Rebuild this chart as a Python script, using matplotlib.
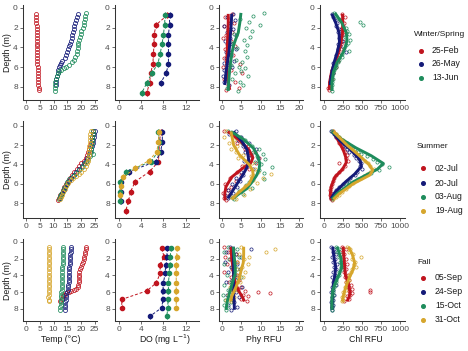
import matplotlib
matplotlib.use('Agg')
import matplotlib.pyplot as plt
from matplotlib.lines import Line2D

# ---------------- colours / labels ----------------
RED, NAVY, GREEN, GOLD = '#C0141E', '#141A78', '#1E8C5C', '#D6A62C'
ROW_TITLES = ['Winter/Spring', 'Summer', 'Fall']
ROW_DATES = [['25-Feb', '26-May', '13-Jun'],
             ['02-Jul', '20-Jul', '03-Aug', '19-Aug'],
             ['05-Sep', '24-Sep', '15-Oct', '31-Oct']]
ROW_COLORS = [[RED, NAVY, GREEN], [RED, NAVY, GREEN, GOLD], [RED, NAVY, GREEN, GOLD]]
XLABELS = ['Temp (°C)', 'DO (mg L$^{-1}$)', 'Phy RFU', 'Chl RFU']
XTICKS = [[0, 5, 10, 15, 20, 25], [0, 4, 8, 12], [0, 5, 10, 15, 20], [0, 250, 500, 750, 1000]]
YTICKS = [0, 2, 4, 6, 8]

# ---------------- profile data (depth, temp, phy, chl) ----------------
# Winter/Spring
D_FEB = [0.6,0.9,1.2,1.5,1.8,2.1,2.4,2.7,3.0,3.3,3.6,3.9,4.2,4.5,4.8,5.1,5.4,5.7,6.0,6.3,6.6,6.9,7.2,7.5,7.8,8.1,8.3]
T_FEB = [3.5,3.6,3.7,3.7,3.8,3.8,3.9,3.9,3.9,4.0,4.0,4.0,4.0,4.0,4.1,4.1,4.1,4.1,4.2,4.2,4.2,4.3,4.3,4.3,4.4,4.5,4.5]
P_FEB = [2.6,0.8,1.9,3.1,0.4,1.5,2.7,1.0,0.2,2.2,1.4,3.3,0.7,1.8,2.9,0.5,1.2,4.6,0.3,2.4,5.2,1.1,0.6,3.4,1.6,4.3,0.9]
C_FEB = [230,275,210,260,250,225,270,235,205,250,215,190,225,175,200,160,185,130,150,105,120,85,95,70,80,55,65]

D_MAY = [0.6,0.9,1.2,1.5,1.8,2.1,2.4,2.7,3.0,3.3,3.6,3.9,4.2,4.5,4.8,5.1,5.4,5.6,5.8,6.0,6.3,6.6,6.9,7.2,7.5,7.8]
T_MAY = [18.9,18.6,18.2,17.9,17.6,17.3,17.0,16.8,16.6,16.3,16.0,15.7,15.3,15.0,14.6,14.0,13.2,12.8,12.3,12.1,11.8,11.5,11.2,11.0,10.9,10.8]
P_MAY = [2.8,1.2,3.4,2.0,0.5,2.9,1.4,3.6,2.1,0.7,2.6,1.6,3.5,0.9,2.3,1.1,3.0,0.4,1.7,2.5,0.6,1.5,0.3,1.2,0.5,1.9]
C_MAY = [95,120,140,165,150,190,175,215,195,230,185,210,175,290,160,150,140,120,135,110,100,115,90,85,80,75]

D_JUN = [0.5,0.8,1.1,1.4,1.7,2.0,2.3,2.6,2.9,3.2,3.5,3.8,4.1,4.4,4.7,5.0,5.25,5.5,5.75,5.95,6.1,6.25,6.4,6.6,6.9,7.2,7.5,7.8,8.1,8.4]
T_JUN = [21.7,21.6,21.4,21.2,21.0,20.6,20.2,19.9,19.6,19.3,19.0,18.9,18.8,18.7,18.5,18.0,17.4,16.6,15.6,14.6,13.7,12.8,12.0,11.5,11.1,10.9,10.7,10.6,10.5,10.4]
P_JUN = [10.9,8.1,4.6,7.0,9.8,6.2,7.8,3.0,7.2,5.6,2.4,6.5,4.0,5.9,1.8,6.4,3.5,5.1,2.2,4.3,6.0,1.5,4.8,3.3,6.8,2.6,4.7,5.5,1.2,4.2]
C_JUN = [130,160,200,470,510,280,300,330,270,340,310,290,260,320,240,230,200,180,160,150,140,130,120,115,105,110,95,100,90,105]

# Summer
D_JUL02 = [0.6,0.9,1.2,1.5,1.8,2.1,2.4,2.7,3.0,3.3,3.6,3.9,4.2,4.5,4.8,5.1,5.4,5.7,6.0,6.3,6.6,6.9,7.2,7.5,7.7]
T_JUL02 = [24.5,24.3,24.1,23.9,23.6,23.4,23.1,22.7,22.3,21.7,21.0,20.2,19.4,18.5,17.6,16.8,15.9,15.1,14.5,13.9,13.4,12.9,12.4,12.0,11.6]
P_JUL02 = [0.5,2.5,3.8,5.5,4.0,6.8,5.9,8.5,7.2,9.6,6.5,8.8,5.2,7.0,3.8,4.9,2.0,3.5,0.8,2.2,1.5,0.3,1.8,0.6,1.1]
C_JUL02 = [110,140,160,190,200,230,250,270,300,280,310,200,270,230,190,150,130,110,95,85,80,90,75,85,95]

D_JUL20 = [0.6,0.9,1.2,1.5,1.8,2.1,2.4,2.7,3.0,3.3,3.6,3.9,4.2,4.5,4.8,5.1,5.4,5.7,6.0,6.3,6.6,6.9,7.2,7.5]
T_JUL20 = [25.0,24.9,24.7,24.5,24.3,24.1,23.8,23.4,23.0,22.4,21.7,21.0,20.3,19.4,18.3,17.3,16.3,15.5,14.9,14.3,13.7,13.2,12.7,12.3]
P_JUL20 = [3.5,1.8,5.0,4.2,7.0,5.5,8.8,6.0,7.5,9.2,5.8,7.0,6.2,8.0,4.8,5.5,3.5,4.6,2.5,3.8,1.5,2.9,0.8,1.6]
C_JUL20 = [90,130,160,190,240,270,300,330,390,420,460,490,470,500,430,400,340,300,250,200,160,130,110,90]

D_AUG03 = [0.6,0.9,1.2,1.5,1.8,2.1,2.4,2.7,2.9,3.1,3.4,3.7,4.0,4.3,4.6,4.9,5.2,5.5,5.8,6.1,6.4,6.7,7.0,7.3,7.6]
T_AUG03 = [24.4,24.3,24.2,24.0,23.9,23.8,23.7,23.6,24.6,23.5,22.6,21.9,21.2,20.3,19.3,18.2,17.0,15.8,15.0,14.4,13.8,13.3,12.8,12.4,12.0]
P_AUG03 = [1.5,3.0,4.6,6.0,5.2,7.8,9.5,8.0,10.5,9.0,11.2,8.5,10.2,13.0,9.5,10.8,8.2,11.0,7.0,6.2,7.8,4.5,5.5,2.0,3.2]
C_AUG03 = [100,150,200,240,300,350,400,450,480,560,640,700,760,850,720,620,520,450,330,280,220,170,150,120,100]

D_AUG19 = [0.6,0.9,1.2,1.5,1.8,2.1,2.4,2.7,3.0,3.3,3.6,3.9,4.2,4.5,4.8,5.0,5.2,5.4,5.6,5.9,6.2,6.5,6.8,7.1,7.4,7.6]
T_AUG19 = [23.6,23.5,23.4,23.3,23.2,23.1,23.0,22.9,22.8,22.7,22.5,22.2,21.7,21.0,20.2,19.3,18.2,17.0,16.2,15.4,14.7,14.0,13.5,13.0,12.6,12.3]
P_AUG19 = [1.0,2.5,0.5,3.2,1.8,4.0,2.2,3.5,5.5,4.2,6.5,7.8,5.8,8.6,9.2,12.8,7.5,10.5,8.0,9.0,6.0,7.2,4.5,5.8,2.2,3.5]
C_AUG19 = [110,150,190,250,280,320,360,400,440,490,540,580,610,650,600,560,520,480,430,380,330,280,230,190,150,120]

# Fall
D_SEP05 = [0.6,0.9,1.2,1.5,1.8,2.1,2.4,2.7,3.0,3.3,3.6,3.9,4.2,4.5,4.8,5.1,5.4,5.6,5.75,5.85,5.95,6.1,6.3,6.5,6.8,7.1]
T_SEP05 = [22.0,21.8,21.6,21.4,21.2,21.0,20.7,20.3,19.9,19.6,19.4,19.3,19.3,19.2,19.2,19.1,19.0,18.3,17.5,16.5,15.5,14.6,13.9,13.4,12.9,12.4]
P_SEP05 = [0.5,2.8,1.5,3.5,0.8,2.0,4.0,1.2,3.2,2.5,0.6,3.8,2.2,4.5,1.8,3.0,5.0,4.2,2.8,6.0,9.2,12.4,5.5,6.8,4.9,6.5]
C_SEP05 = [230,280,210,260,240,290,250,300,230,280,260,310,270,330,290,350,310,360,600,330,610,370,340,300,320,260]

D_SEP24 = [0.6,0.9,1.2,1.5,1.8,2.1,2.4,2.7,3.0,3.3,3.6,3.9,4.2,4.5,4.8,5.1,5.4,5.7,6.0,6.3,6.6,6.9,7.2,7.5,7.8,8.1]
T_SEP24 = [16.4,16.3,16.2,16.1,16.0,16.0,15.9,15.9,15.8,15.8,15.7,15.7,15.6,15.6,15.5,15.4,15.3,15.1,14.9,14.7,14.6,14.4,14.3,14.2,14.1,14.0]
P_SEP24 = [2.0,7.4,1.0,3.5,5.0,2.5,0.8,3.8,2.2,4.6,1.5,3.0,4.0,2.6,0.9,3.4,5.2,2.0,3.7,1.2,4.4,2.8,3.2,1.6,4.0,2.4]
C_SEP24 = [90,130,110,150,100,140,120,170,130,160,110,140,95,130,110,150,100,120,90,130,105,115,85,110,95,100]

D_OCT15 = [0.6,0.9,1.2,1.5,1.8,2.1,2.4,2.7,3.0,3.3,3.6,3.9,4.2,4.5,4.8,5.1,5.4,5.7,6.0,6.3,6.6,6.9,7.2,7.5,7.8,8.1]
T_OCT15 = [13.5,13.5,13.4,13.4,13.4,13.3,13.3,13.3,13.2,13.2,13.2,13.1,13.1,13.1,13.0,13.0,12.9,12.9,12.8,12.8,12.7,12.7,12.6,12.6,12.5,12.5]
P_OCT15 = [1.5,3.8,0.5,2.8,4.5,1.8,3.2,0.4,2.5,4.0,3.0,1.2,5.0,3.6,2.2,0.6,3.0,1.5,2.6,0.3,1.8,0.8,2.2,0.4,1.5,0.9]
C_OCT15 = [150,190,170,220,200,240,210,250,220,230,200,190,170,160,150,140,130,120,115,110,105,100,95,100,105,95]

D_OCT31 = [0.6,0.9,1.2,1.5,1.8,2.1,2.4,2.7,3.0,3.3,3.6,3.9,4.2,4.5,4.8,5.1,5.4,5.7,6.0,6.3,6.6,6.9,7.1]
T_OCT31 = [8.4,8.4,8.3,8.3,8.3,8.3,8.3,8.3,8.2,8.3,8.3,8.2,8.2,8.3,8.2,8.2,8.3,8.2,8.2,8.2,8.1,8.2,8.2]
P_OCT31 = [5.0,13.7,11.5,4.5,7.0,5.8,3.8,6.8,5.2,4.0,6.0,3.5,5.4,2.8,4.6,3.2,2.0,3.8,2.5,1.5,3.0,1.0,2.2]
C_OCT31 = [300,340,330,380,490,360,410,390,420,370,350,330,310,320,290,300,270,280,250,260,240,250,230]

# ---------------- smoothed (loess) curves ----------------
S_FEB_D = [0.6,1.5,2.5,3.5,4.5,5.5,6.5,7.5,8.3]
S_FEB_P = [1.6,1.6,1.5,1.4,1.3,1.2,1.3,1.6,2.0]
S_FEB_C = [240,245,240,220,185,140,95,70,65]
S_MAY_D = [0.6,1.5,2.5,3.5,4.5,5.5,6.5,7.5,7.8]
S_MAY_P = [2.5,2.4,2.2,2.0,1.8,1.4,1.0,0.8,0.7]
S_MAY_C = [100,150,195,200,170,130,100,80,78]
S_JUN_D = [0.5,1.5,2.5,3.2,3.9,4.5,5.5,6.5,7.5,8.4]
S_JUN_P = [4.9,4.6,4.2,3.5,2.9,2.6,2.2,1.9,1.7,1.6]
S_JUN_C = [140,230,290,300,280,250,170,120,100,100]

S_JUL02_D = [0.6,1.5,2.5,3.3,3.8,4.5,5.3,6.3,7.0,7.7]
S_JUL02_P = [1.5,4.5,7.0,8.0,7.5,5.0,2.5,1.0,0.7,0.8]
S_JUL02_C = [120,180,250,285,290,240,140,90,80,90]
S_JUL20_D = [0.6,1.5,2.5,3.5,4.2,5.0,5.8,6.8,7.5]
S_JUL20_P = [2.9,5.0,6.5,6.9,6.6,5.5,4.2,2.6,1.5]
S_JUL20_C = [100,200,350,470,490,400,280,150,90]
S_AUG03_D = [0.6,1.4,2.3,3.1,3.9,4.5,5.1,5.8,6.5,7.0,7.6]
S_AUG03_P = [2.3,5.5,8.1,9.2,9.8,9.6,9.0,7.8,6.4,4.5,2.5]
S_AUG03_C = [100,230,420,620,780,700,550,380,260,170,100]
S_AUG19_D = [0.6,2.0,3.0,4.0,4.6,5.1,6.0,7.0,7.6]
S_AUG19_P = [2.3,3.0,4.5,7.0,7.9,8.1,7.0,4.0,2.5]
S_AUG19_C = [120,300,450,590,640,600,380,200,120]

S_SEP05_D = [0.6,2.0,3.0,4.0,5.0,6.0,6.5,7.1]
S_SEP05_P = [2.3,2.5,2.8,3.0,3.5,4.5,5.2,5.8]
S_SEP05_C = [250,260,270,280,320,340,330,300]
S_SEP24_D = [0.6,2.0,3.0,4.0,5.0,6.0,7.0,8.1]
S_SEP24_P = [2.9,3.0,3.0,3.0,3.0,3.0,3.1,3.2]
S_SEP24_C = [110,130,150,140,120,110,105,100]
S_OCT15_D = [0.6,2.0,3.0,3.8,5.0,5.8,7.0,8.1]
S_OCT15_P = [2.9,3.2,3.4,3.4,2.6,2.1,1.4,1.0]
S_OCT15_C = [170,220,230,200,140,110,100,100]
S_OCT31_D = [0.6,1.5,2.5,3.3,4.5,5.5,6.5,7.1]
S_OCT31_P = [5.6,5.6,5.5,5.0,4.4,3.5,2.5,2.2]
S_OCT31_C = [320,370,400,380,320,280,250,240]

# ---------------- dissolved oxygen (binned means) ----------------
DO_D1 = [0.72,1.7,2.7,3.65,4.65,5.65,6.6,7.6,8.6]
DO_FEB = [8.7,6.7,6.3,6.3,6.2,6.1,5.7,5.5,5.0]
DO_MAY = [9.1,9.1,8.9,8.9,8.9,8.9,8.5,7.5]
DO_JUN = [8.3,8.2,8.0,7.75,7.4,7.0,5.9,5.0,4.1]
DO_D2 = [0.62,1.65,2.68,3.7,4.74,5.77,6.8,7.8,8.8]
DO_JUL02 = [7.5,7.3,7.2,7.1,5.5,2.9,2.1,1.7,1.2]
DO_JUL20 = [7.8,7.8,7.5,6.6,1.8,0.3,0.3,0.3]
DO_AUG03 = [7.1,7.2,7.0,5.8,1.2,0.2,0.2,0.2]
DO_D2Y = [0.62,1.65,2.68,3.6,4.4,5.3,6.2,7.2]
DO_AUG19 = [7.2,7.1,6.8,5.4,2.9,0.8,0.3,0.2]
DO_D3 = [0.79,1.78,2.77,3.77,4.9,5.85,6.86,7.85,8.85]
DO_SEP05 = [7.7,8.1,7.4,7.4,6.7,5.0,0.5,0.5]
DO_SEP24 = [8.7,8.6,8.4,8.3,8.0,7.9,7.9,7.7,5.6]
DO_OCT15 = [9.4,9.2,9.1,9.05,8.9,8.9,8.8,8.8,8.6]
DO_OCT31 = [10.4,10.4,10.3,10.3,10.3,10.3,10.3,10.3]
DO_ERR = 0.3

PROFILES = [
    [(D_FEB, T_FEB, P_FEB, C_FEB), (D_MAY, T_MAY, P_MAY, C_MAY), (D_JUN, T_JUN, P_JUN, C_JUN)],
    [(D_JUL02, T_JUL02, P_JUL02, C_JUL02), (D_JUL20, T_JUL20, P_JUL20, C_JUL20),
     (D_AUG03, T_AUG03, P_AUG03, C_AUG03), (D_AUG19, T_AUG19, P_AUG19, C_AUG19)],
    [(D_SEP05, T_SEP05, P_SEP05, C_SEP05), (D_SEP24, T_SEP24, P_SEP24, C_SEP24),
     (D_OCT15, T_OCT15, P_OCT15, C_OCT15), (D_OCT31, T_OCT31, P_OCT31, C_OCT31)],
]
SMOOTHS = [
    [(S_FEB_D, S_FEB_P, S_FEB_C), (S_MAY_D, S_MAY_P, S_MAY_C), (S_JUN_D, S_JUN_P, S_JUN_C)],
    [(S_JUL02_D, S_JUL02_P, S_JUL02_C), (S_JUL20_D, S_JUL20_P, S_JUL20_C),
     (S_AUG03_D, S_AUG03_P, S_AUG03_C), (S_AUG19_D, S_AUG19_P, S_AUG19_C)],
    [(S_SEP05_D, S_SEP05_P, S_SEP05_C), (S_SEP24_D, S_SEP24_P, S_SEP24_C),
     (S_OCT15_D, S_OCT15_P, S_OCT15_C), (S_OCT31_D, S_OCT31_P, S_OCT31_C)],
]
DOS = [
    [(DO_D1, DO_FEB), (DO_D1, DO_MAY), (DO_D1, DO_JUN)],
    [(DO_D2, DO_JUL02), (DO_D2, DO_JUL20), (DO_D2, DO_AUG03), (DO_D2Y, DO_AUG19)],
    [(DO_D3, DO_SEP05), (DO_D3, DO_SEP24), (DO_D3, DO_OCT15), (DO_D3, DO_OCT31)],
]

# ---------------- layout (pixels) ----------------
W, H = 468, 351
fig = plt.figure(figsize=(W / 100, H / 100), dpi=100)
plt.rcParams['font.family'] = ['Liberation Sans', 'DejaVu Sans']

COLS = [(23, 97), (115, 199), (219, 303), (320, 405)]
ROWS = [(5, 99.5), (121, 218), (239.3, 321)]
XLIMS = [(-1.2, 25.9), (-0.72, 14.4), (-0.8, 21.0), (-57, 1066)]
YLIMS = [(9.27, -0.30), (9.52, -0.48), (9.43, -0.29)]
AXC = '#333333'
TXC = '#4D4D4D'
LBC = '#1A1A1A'


def add_ax(l, t, r, b):
    return fig.add_axes([l / W, 1 - b / H, (r - l) / W, (b - t) / H])


def px(x, y):
    return x / W, 1 - y / H


for ri in range(3):
    t, b = ROWS[ri]
    colors = ROW_COLORS[ri]
    axes = []
    for ci in range(4):
        l, r = COLS[ci]
        ax = add_ax(l, t, r, b)
        ax.set_xlim(*XLIMS[ci])
        ax.set_ylim(*YLIMS[ri])
        ax.set_xticks(XTICKS[ci])
        ax.set_yticks(YTICKS)
        for s in ['top', 'right']:
            ax.spines[s].set_visible(False)
        for s in ['left', 'bottom']:
            ax.spines[s].set_color(AXC)
            ax.spines[s].set_linewidth(0.75)
        ax.tick_params(length=2.2, width=0.5, color=AXC, labelsize=6,
                       labelcolor=TXC, pad=1.5)
        ax.set_facecolor('none')
        axes.append(ax)

    # temperature profiles
    for (d, tv, pv, cv), c in zip(PROFILES[ri], colors):
        axes[0].plot(tv, d, 'o', ms=2.9, mfc='none', mec=c, mew=0.55, ls='none')

    # dissolved oxygen
    for (d, v), c in zip(DOS[ri], colors):
        dd = d[:len(v)]
        axes[1].errorbar(v, dd, yerr=DO_ERR, fmt='none', ecolor=c, elinewidth=0.7, capsize=0)
        axes[1].plot(v, dd, ls=(0, (3, 2)), color=c, lw=0.7)
        axes[1].plot(v, dd, 'o', ms=3.0, color=c, mec=c, ls='none')

    # phycocyanin & chlorophyll scatter
    for (d, tv, pv, cv), c in zip(PROFILES[ri], colors):
        axes[2].plot(pv, d, 'o', ms=2.3, mfc='none', mec=c, mew=0.5, ls='none')
        axes[3].plot(cv, d, 'o', ms=2.3, mfc='none', mec=c, mew=0.5, ls='none')
    for (sd, sp, sc), c in zip(SMOOTHS[ri], colors):
        axes[2].plot(sp, sd, color=c, lw=2.1, solid_capstyle='butt', solid_joinstyle='round')
        axes[3].plot(sc, sd, color=c, lw=2.1, solid_capstyle='butt', solid_joinstyle='round')

    # y label
    fig.text(*px(7, (t + b) / 2), 'Depth (m)', rotation=90, ha='center', va='center',
             fontsize=6.3, color=LBC)

# x labels (bottom row)
for xc, lab in zip([61, 165, 264, 366], XLABELS):
    fig.text(*px(xc, 340), lab, ha='center', va='center', fontsize=6.3, color=LBC)

# legends
LEG = [
    dict(title=(414, 35), mx=421, tx=432, ys=[50.7, 64, 78]),
    dict(title=(417, 146), mx=423, tx=435, ys=[168.3, 183, 196.7, 210.5]),
    dict(title=(417, 262.7), mx=423, tx=435, ys=[277.7, 291.7, 306, 320]),
]
for ri, lg in enumerate(LEG):
    fig.text(*px(*lg['title']), ROW_TITLES[ri], ha='left', va='center', fontsize=6, color=LBC)
    for y, lab, c in zip(lg['ys'], ROW_DATES[ri], ROW_COLORS[ri]):
        fig.add_artist(Line2D([lg['mx'] / W], [1 - y / H], transform=fig.transFigure,
                              marker='o', ms=2.6, color=c, ls='none'))
        fig.text(*px(lg['tx'], y), lab, ha='left', va='center', fontsize=6.2, color=LBC)

fig.savefig('out.png', dpi=100, facecolor='white')
